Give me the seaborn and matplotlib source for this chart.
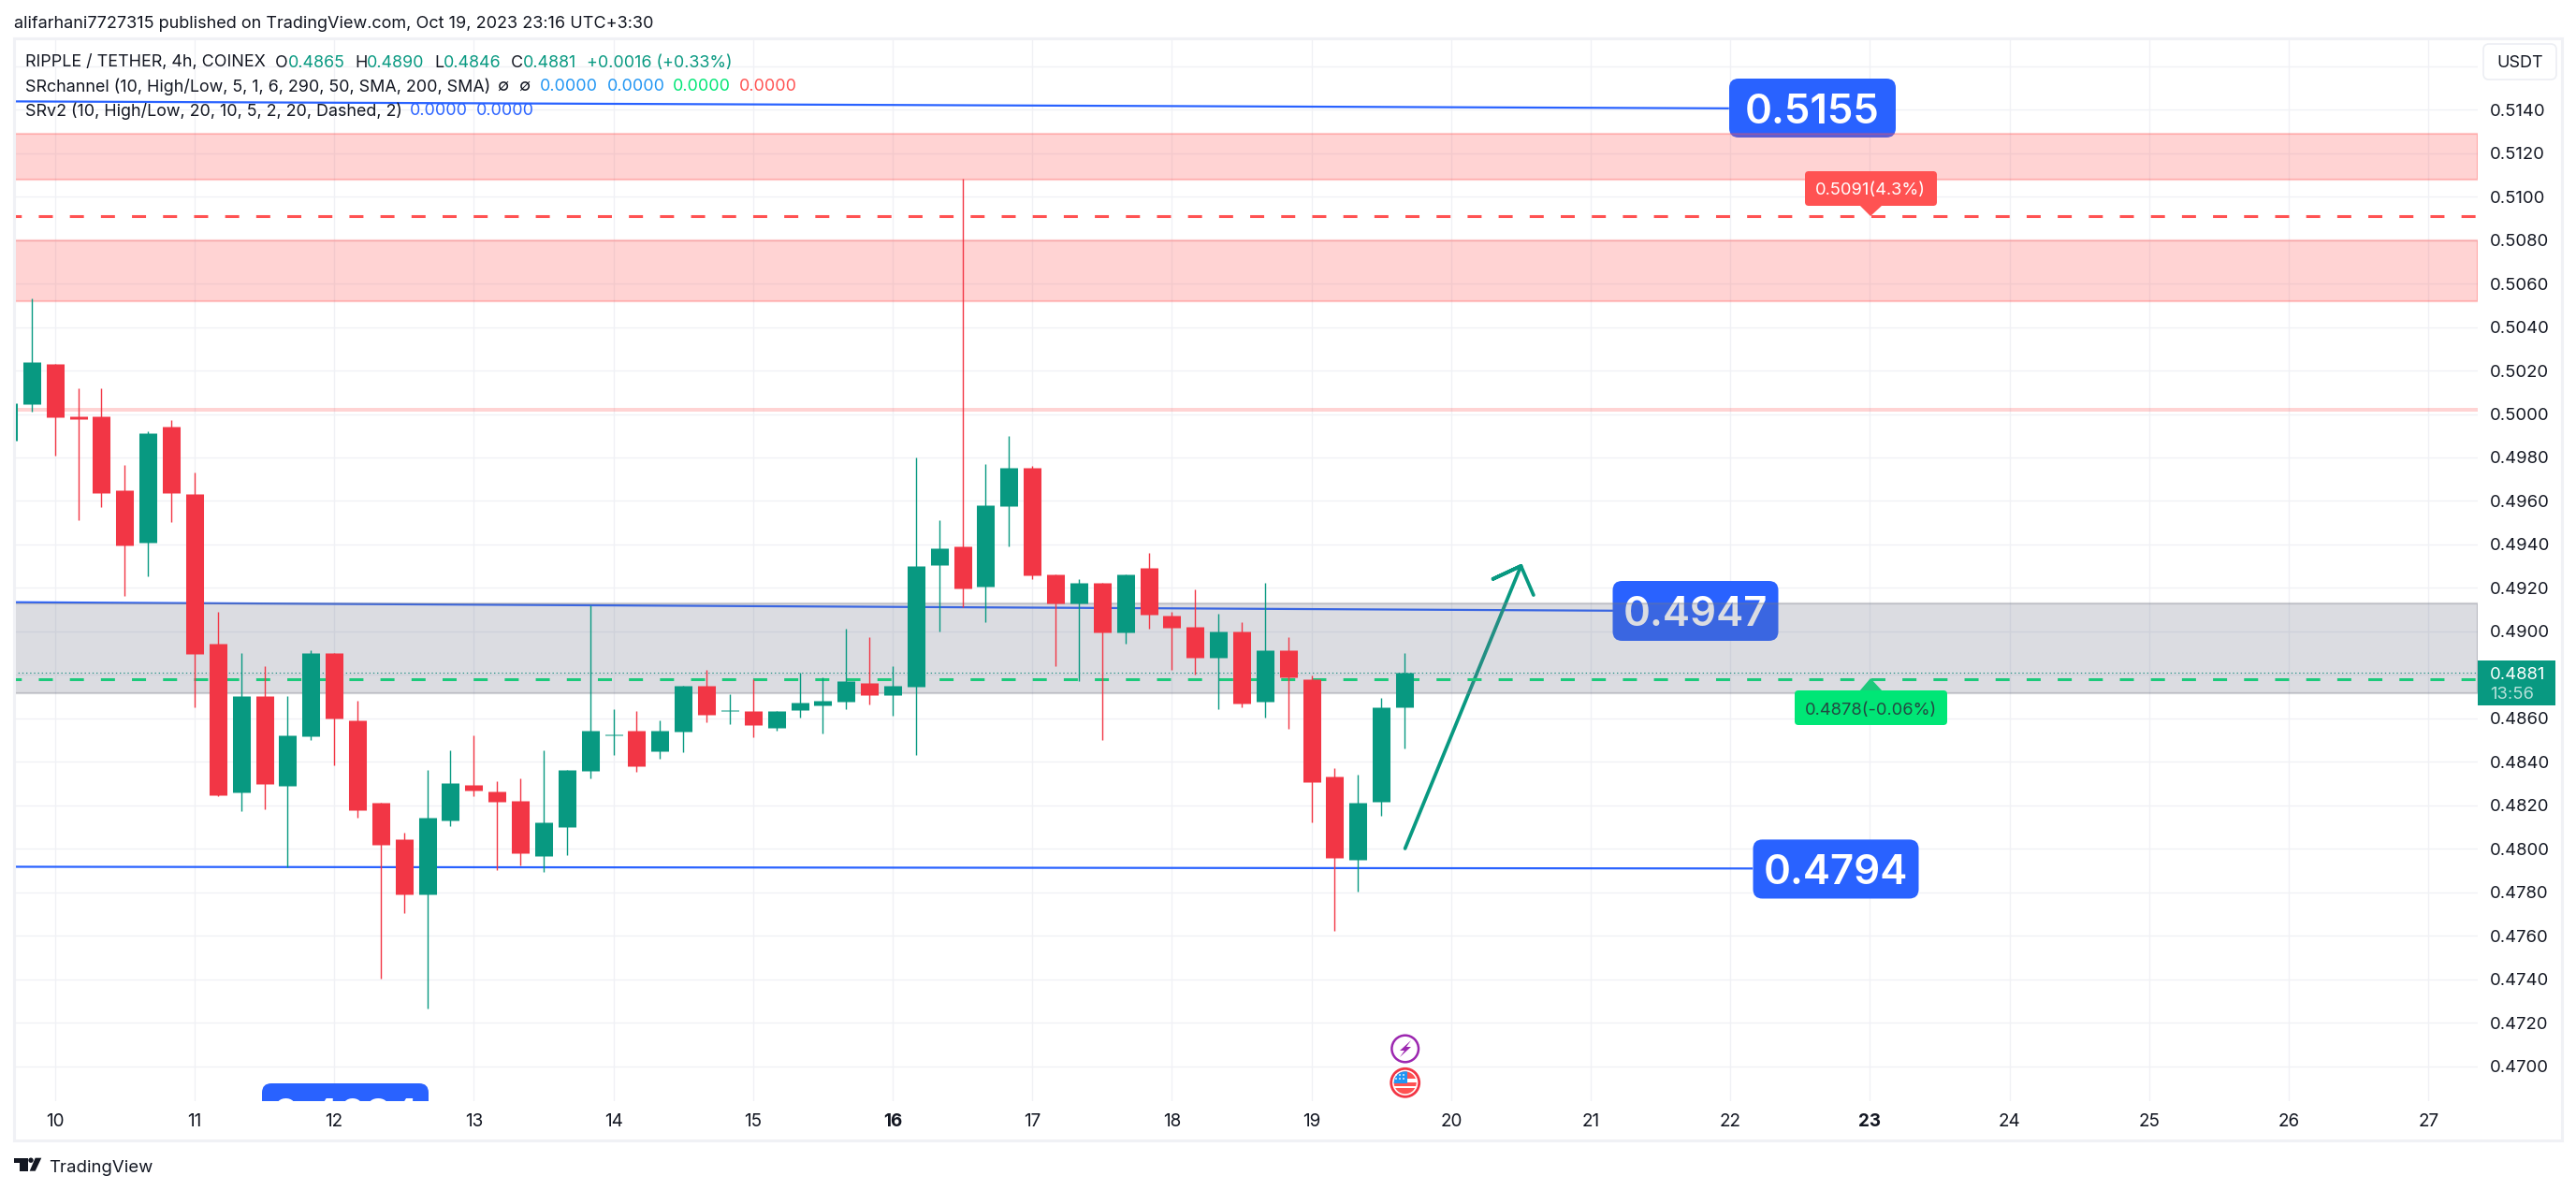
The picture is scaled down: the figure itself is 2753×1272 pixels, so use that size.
import numpy as np
import pandas as pd
import matplotlib
matplotlib.use('Agg')
import matplotlib.pyplot as plt
import seaborn as sns
from matplotlib.patches import FancyBboxPatch, Rectangle, Polygon, Circle
from matplotlib.transforms import Affine2D
from matplotlib.colors import to_rgba

#candles, 4h
first_candle = 9 + 4/6
opens = [.49878,.50045,.50231,.49990,.49990,.49649,.49409,.49942,.49633,.48944,.48259,.48703,.48289,.48518,.48901,.48591,.48212,.48044,.47790,.48130,.48294,.48264,.48221,.47967,.48100,.48358,.48520,.48543,.48449,.48539,.48750,.48632,.48634,.48556,.48638,.48659,.48677,.48763,.48707,.48746,.49305,.49391,.49206,.49576,.49753,.49262,.49129,.49224,.48995,.49292,.49073,.49021,.48879,.49000,.48677,.48914,.48780,.48332,.47949,.48216,.4865]
highs = [.50050,.50532,.50231,.50119,.50119,.49766,.49921,.49972,.49731,.49090,.48901,.48840,.48703,.48914,.48901,.48681,.48212,.48074,.48363,.48453,.48522,.48311,.48324,.48453,.48363,.49120,.48642,.48634,.48591,.48750,.48823,.48711,.48780,.48634,.48810,.48789,.49013,.48974,.48840,.49800,.49512,.51083,.49770,.49899,.49762,.49262,.49241,.49224,.49262,.49361,.49090,.49193,.49081,.49043,.49224,.48974,.48797,.48371,.48341,.48694,.4890]
lows = [.49878,.50011,.49809,.49512,.49572,.49163,.49254,.49503,.48651,.48242,.48173,.48182,.47915,.48500,.48384,.48143,.47403,.47704,.47265,.48105,.48242,.47902,.47924,.47893,.47971,.48324,.48431,.48354,.48414,.48444,.48582,.48574,.48513,.48543,.48604,.48530,.48642,.48664,.48612,.48431,.49000,.49112,.49043,.49391,.49241,.48840,.48771,.48500,.48944,.49013,.48823,.48801,.48642,.48651,.48604,.48552,.48122,.47622,.47803,.48152,.4846]
closes = [.50050,.50239,.49985,.49977,.49637,.49396,.49912,.49637,.48896,.48246,.48703,.48298,.48522,.48901,.48599,.48177,.48016,.47790,.48143,.48301,.48268,.48216,.47979,.48122,.48363,.48543,.48524,.48380,.48543,.48750,.48617,.48636,.48569,.48634,.48672,.48681,.48771,.48707,.48750,.49301,.49383,.49198,.49581,.49753,.49258,.49129,.49224,.48995,.49262,.49077,.49017,.48879,.49000,.48668,.48914,.48789,.48306,.47958,.48212,.48651,.4881]

#axis ticks
day_ticks = list(range(10, 28))
price_ticks = [.4700,.4720,.4740,.4760,.4780,.4800,.4820,.4840,.4860,.4880,.4900,.4920,.4940,.4960,.4980,.5000,.5020,.5040,.5060,.5080,.5100,.5120,.5140,.5160]
price_labels = ['0.4700','0.4720','0.4740','0.4760','0.4780','0.4800','0.4820','0.4840','0.4860','','0.4900','0.4920','0.4940','0.4960','0.4980','0.5000','0.5020','0.5040','0.5060','0.5080','0.5100','0.5120','0.5140','']

#zones and levels
red_zones = [(.51080, .51288), (.50520, .50798)]
thin_zone = (.50010, .50027)
grey_zone = (.48716, .49130)
top_target = .5091
bottom_target = .4878
last_price = .4881
top_level_days = [9.70, 21.99]
top_level_prices = [.51438, .51406]
mid_level_days = [9.70, 21.16]
mid_level_prices = [.49134, .49095]
low_level_days = [9.70, 22.16]
low_level_prices = [.47917, .47909]
arrow_days = [19.67, 20.50, 20.30, 20.50, 20.59]
arrow_prices = [.48001, .49301, .49241, .49301, .49167]

BULL = '#089981'
BEAR = '#f23645'
BLUE = '#2962ff'
TEXT = '#131722'

sns.set_theme(style='whitegrid', rc={'grid.color': '#f0f1f5', 'grid.linewidth': 1.0,
                                     'lines.scale_dashes': False,
                                     'lines.solid_capstyle': 'butt'})
plt.rcParams['font.family'] = ['Inter', 'DejaVu Sans']

fig = plt.figure(figsize=(27.53, 12.72), dpi=100, facecolor='white')
ax = fig.add_axes([15/2753, 1 - 1176.5/1272, 2633/2753, 1135.5/1272])
#everything that is not data is placed in picture pixels, y going down
px = Affine2D().scale(1, -1).translate(0, 1272)

#candles
t = first_candle + np.arange(len(opens)) / 6
direction = ['up' if c >= o else 'down' for o, c in zip(opens, closes)]
candles = pd.DataFrame({'t': t, 'candle': range(len(t)), 'dir': direction,
                        'open': opens, 'high': highs, 'low': lows, 'close': closes})
wicks = candles.melt(id_vars=['t', 'candle', 'dir'], value_vars=['high', 'low'], value_name='price')
bodies = candles.melt(id_vars=['t', 'candle', 'dir'], value_vars=['open', 'close'], value_name='price')
colors = {'up': BULL, 'down': BEAR}
sns.lineplot(data=wicks, x='t', y='price', units='candle', hue='dir', palette=colors, estimator=None,
             sort=False, legend=False, linewidth=1.0, zorder=4, ax=ax)
sns.lineplot(data=bodies, x='t', y='price', units='candle', hue='dir', palette=colors, estimator=None,
             sort=False, legend=False, linewidth=13.7, zorder=4.1, ax=ax, solid_capstyle='butt')

#blue levels and hand drawn arrow
for days, prices in [(top_level_days, top_level_prices), (mid_level_days, mid_level_prices),
                     (low_level_days, low_level_prices)]:
    sns.lineplot(x=days, y=prices, color=BLUE, linewidth=1.6, estimator=None, sort=False, zorder=2, ax=ax)
sns.lineplot(x=arrow_days, y=arrow_prices, color=BULL, linewidth=2.7, estimator=None, sort=False, zorder=2, ax=ax,
             solid_capstyle='round', solid_joinstyle='round')

#zones on top of labels, under candles
red_fill = to_rgba('#ff5252', .25)
red_edge = to_rgba('#ff5252', .3)
grey_fill = to_rgba('#70758a', .25)
grey_edge = to_rgba('#787b86', .32)
for lo, hi in red_zones:
    ax.axhspan(lo, hi, facecolor=red_fill, edgecolor=red_edge, linewidth=1.6, zorder=3)
ax.axhspan(thin_zone[0], thin_zone[1], facecolor=red_fill, linewidth=0, zorder=3)
ax.axhspan(grey_zone[0], grey_zone[1], facecolor=grey_fill, edgecolor=grey_edge, linewidth=1.6, zorder=3)

#target lines and current price
ax.axhline(top_target, color='#ff5252', linewidth=2.2, linestyle=(5.2, (10.8, 13.1)), zorder=2.5)
ax.axhline(bottom_target, color='#00e676', linewidth=2.2, linestyle=(5.2, (10.8, 13.1)), zorder=2.5)
ax.axhline(last_price, color=BULL, linewidth=0.8, linestyle=(0, (1, 2)), zorder=2.5)

ax.set_xlim(9.707, 27.353)
ax.set_ylim(.46841, .51728)
ax.set_xlabel('')
ax.set_ylabel('')
ax.set_axisbelow(True)
ax.grid(True)
for s in ax.spines.values():
    s.set_visible(False)
ax.set_facecolor('white')
ax.yaxis.tick_right()
ax.set_yticks(price_ticks)
ax.set_yticklabels(price_labels)
ax.set_xticks(day_ticks)
ax.set_xticklabels([str(d) for d in day_ticks])
ax.tick_params(axis='y', length=0, pad=9.4, labelsize=13.3, labelcolor=TEXT)
ax.tick_params(axis='x', length=0, pad=10, labelsize=13.6, labelcolor=TEXT)
ax.get_xticklabels()[day_ticks.index(16)].set_fontweight('bold')
ax.get_xticklabels()[day_ticks.index(23)].set_fontweight('bold')


def box(x0, y0, x1, y1, color, r, target=ax, zorder=2.2):
    patch = FancyBboxPatch((x0, y0), x1 - x0, y1 - y0, boxstyle='round,pad=0,rounding_size=%s' % r,
                           facecolor=color, edgecolor='none', transform=px, zorder=zorder)
    if target is ax:
        ax.add_patch(patch)
    else:
        fig.add_artist(patch)
    return patch


#level labels, the band lies over them
for x0, x1, y0, y1, label in [(1848, 2026, 84, 147, '0.5155'), (1723.5, 1900.5, 621, 685, '0.4947'),
                              (1873.5, 2050.5, 897.4, 960.5, '0.4794'), (280, 458, 1158, 1221, '0.4684')]:
    box(x0, y0, x1, y1, BLUE, 10)
    ax.text((x0 + x1) / 2, (y0 + y1) / 2, label, color='white', fontsize=31.5, fontweight='semibold',
            ha='center', va='center_baseline', transform=px, zorder=2.3, clip_on=True)

#target labels
box(1929, 183, 2070, 220, '#ff5252', 4)
ax.add_patch(Polygon([(1987, 219), (2012, 219), (1999, 231)], facecolor='#ff5252', edgecolor='none', transform=px, zorder=2.2))
ax.text(1999, 202, '0.5091(4.3%)', color='white', fontsize=13.2, ha='center', va='center_baseline', transform=px, zorder=2.3)
box(1918, 738, 2081, 775, '#00e676', 4, zorder=3.2)
ax.add_patch(Polygon([(1987, 739), (2012, 739), (1999, 725)], facecolor='#00e676', edgecolor='none', transform=px, zorder=2.2))
ax.text(1999, 757, '0.4878(-0.06%)', color='#2a2e39', alpha=.85, fontsize=13.2, ha='center', va='center_baseline', transform=px, zorder=3.3)

#panel frame, button and price tag
fig.add_artist(Rectangle((15, 41), 2723, 1178, facecolor='none', edgecolor='#f0f1f5', linewidth=2.2, transform=px, zorder=1))
btn = FancyBboxPatch((2654, 47), 78, 38, boxstyle='round,pad=0,rounding_size=6', facecolor='white',
                     edgecolor='#eceef3', linewidth=1.2, transform=px, zorder=2)
fig.add_artist(btn)
fig.text(2693, 65.5, 'USDT', color=TEXT, fontsize=13.0, ha='center', va='center_baseline', transform=px, zorder=3)
fig.add_artist(Rectangle((2648, 706), 83, 47.5, facecolor=BULL, edgecolor='none', transform=px, zorder=2))
fig.text(2661, 719.6, '0.4881', color='white', fontsize=13.3, va='center_baseline', transform=px, zorder=3)
fig.text(2661, 740.6, '13:56', color='white', alpha=.7, fontsize=13.3, va='center_baseline', transform=px, zorder=3)

#header and legend
fig.text(14.7, 24, 'alifarhani7727315 published on TradingView.com, Oct 19, 2023 23:16 UTC+3:30', color=TEXT,
         fontsize=13.0, va='center_baseline', transform=px, zorder=5)
legend = [
    (65, [(27, 'RIPPLE / TETHER, 4h, COINEX', TEXT), (294, 'O', TEXT), (308, '0.4865', BULL), (379, 'H', TEXT),
          (392, '0.4890', BULL), (464, 'L', TEXT), (474, '0.4846', BULL), (546, 'C', TEXT), (559, '0.4881', BULL),
          (627, '+0.0016 (+0.33%)', BULL)]),
    (90.7, [(27, 'SRchannel (10, High/Low, 5, 1, 6, 290, 50, SMA, 200, SMA)', TEXT), (531, '\u2205', TEXT), (554, '\u2205', TEXT),
            (577, '0.0000', '#2196f3'), (649, '0.0000', '#2196f3'), (719, '0.0000', '#00e676'), (790, '0.0000', '#ff5252')]),
    (116.7, [(27, 'SRv2 (10, High/Low, 20, 10, 5, 2, 20, Dashed, 2)', TEXT), (438, '0.0000', BLUE), (509, '0.0000', BLUE)]),
]
for y, parts in legend:
    for x, s, c in parts:
        fig.text(x, y, s, color=c, fontsize=12.9, va='center_baseline', transform=px, zorder=5)

#footer logo
fig.add_artist(Polygon([(15, 1237.7), (30, 1237.7), (30, 1251.7), (20.7, 1251.7), (20.7, 1243.3), (15, 1243.3)],
                       facecolor=TEXT, edgecolor='none', transform=px, zorder=5))
fig.add_artist(Circle((33, 1240.2), 2.7, facecolor=TEXT, edgecolor='none', transform=px, zorder=5))
fig.add_artist(Polygon([(37.7, 1237.7), (44.3, 1237.7), (37.7, 1251.7), (31.7, 1251.7)],
                       facecolor=TEXT, edgecolor='none', transform=px, zorder=5))
fig.text(51.7, 1253, 'TradingView', color=TEXT, fontsize=13.4, va='baseline', transform=px, zorder=5)

#event icons
fig.add_artist(Circle((1501.7, 1121), 14.3, facecolor='white', edgecolor='#9c27b0', linewidth=1.8, transform=px, zorder=5))
fig.add_artist(Polygon([(1508, 1112), (1496, 1123), (1501, 1123), (1496, 1130), (1508, 1119), (1503, 1119)],
                       facecolor='#9c27b0', edgecolor='none', transform=px, zorder=6))
fig.add_artist(Circle((1501.7, 1157.3), 15, facecolor='white', edgecolor=BEAR, linewidth=2.0, transform=px, zorder=5))
clip = Circle((1501.7, 1157.3), 12, transform=px)
for rect, col in [((1489, 1145, 26, 8), '#ff5252'), ((1489, 1157, 26, 4), '#ff5252'), ((1489, 1163, 26, 7), '#ff5252'),
                  ((1489, 1145, 15, 12.5), '#2196f3')]:
    r = Rectangle((rect[0], rect[1]), rect[2], rect[3], facecolor=col, edgecolor='none', transform=px, zorder=6)
    r.set_clip_path(clip)
    fig.add_artist(r)
for dx in (1492, 1496, 1500):
    for dy in (1149, 1153):
        fig.add_artist(Circle((dx, dy), 0.9, facecolor='white', edgecolor='none', transform=px, zorder=7))

fig.savefig('out.png', dpi=100, facecolor='white')
